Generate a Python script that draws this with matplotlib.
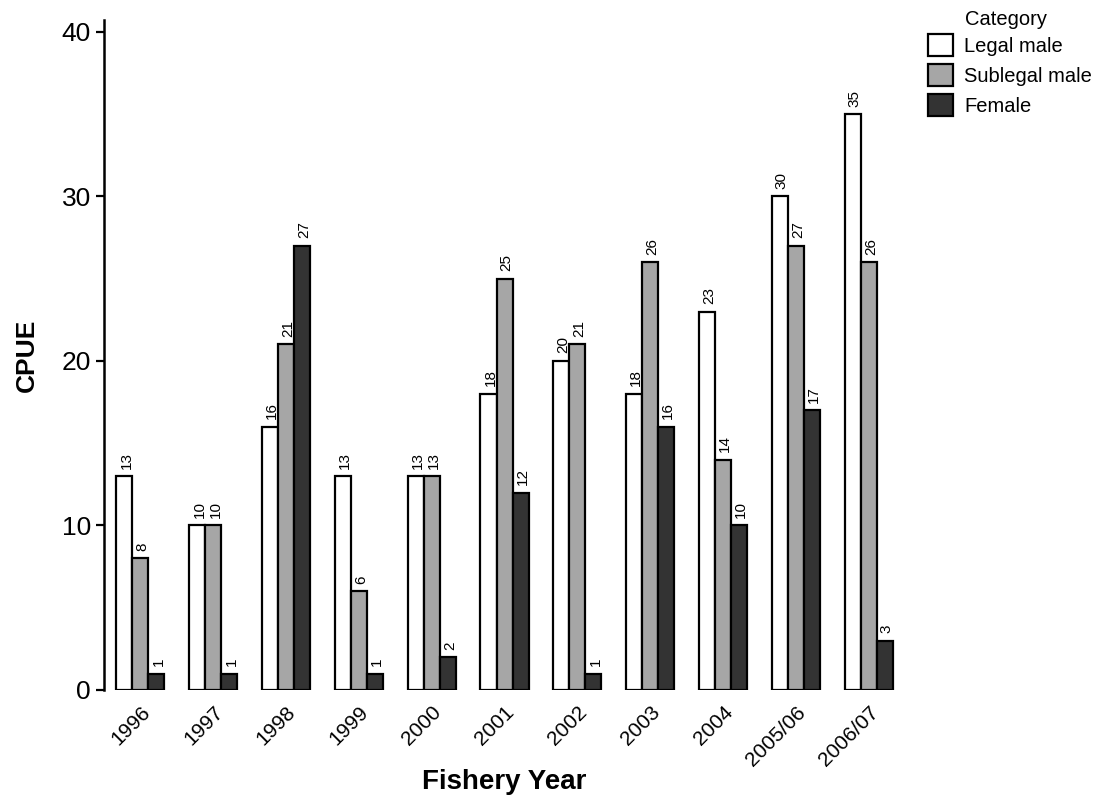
import numpy as np
import matplotlib
matplotlib.use("Agg")
import matplotlib.pyplot as plt
from matplotlib.patches import Patch

plt.rcParams['font.family'] = ['Liberation Sans', 'DejaVu Sans']

years = ['1996', '1997', '1998', '1999', '2000', '2001', '2002', '2003',
         '2004', '2005/06', '2006/07']
legal = [13, 10, 16, 13, 13, 18, 20, 18, 23, 30, 35]
sublegal = [8, 10, 21, 6, 13, 25, 21, 26, 14, 27, 26]
female = [1, 1, 27, 1, 2, 12, 1, 16, 10, 17, 3]
categories = ['Legal male', 'Sublegal male', 'Female']
colors = ['#ffffff', '#a6a6a6', '#333333']

fig = plt.figure(figsize=(11.07, 8.02), dpi=100)
ax = fig.add_axes([0.094, 0.1397, 0.7235, 0.835])

x = np.arange(len(years))
w = 0.22
for i, (vals, col) in enumerate(zip([legal, sublegal, female], colors)):
    pos = x + (i - 1) * w
    ax.bar(pos, vals, width=w, color=col, edgecolor='black', linewidth=1.6)
    for p, v in zip(pos, vals):
        ax.text(p + 0.03, v + 0.45, str(v), rotation=90, ha='center', va='bottom',
                fontsize=11)

ax.set_xlim(-0.5, len(years) - 0.5)
ax.set_ylim(0, 40.7)
ax.set_yticks([0, 10, 20, 30, 40])
ax.tick_params(axis='y', labelsize=19, length=6, width=1.6)
ax.set_xticks(x)
ax.set_xticklabels(years, rotation=45, ha='right', rotation_mode='anchor', fontsize=15)
ax.tick_params(axis='x', length=0, pad=9)
for s in ['top', 'right', 'bottom']:
    ax.spines[s].set_visible(False)
ax.spines['left'].set_linewidth(1.8)

ax.set_ylabel('CPUE', fontsize=19, fontweight='bold', labelpad=16)
ax.set_xlabel('Fishery Year', fontsize=20, fontweight='bold', labelpad=0)

handles = [Patch(facecolor=c, edgecolor='black', linewidth=1.6) for c in colors]
leg = fig.legend(handles, categories, loc='upper left',
                 bbox_to_anchor=(0.829, 0.97), frameon=False, fontsize=14.5,
                 handlelength=1.25, handleheight=1.3, borderpad=0.0,
                 handletextpad=0.55, labelspacing=0.4)
fig.text(965 / 1107, 1 - 10 / 802, 'Category', fontsize=14.5, ha='left', va='top')

fig.savefig('out.png', dpi=100)
